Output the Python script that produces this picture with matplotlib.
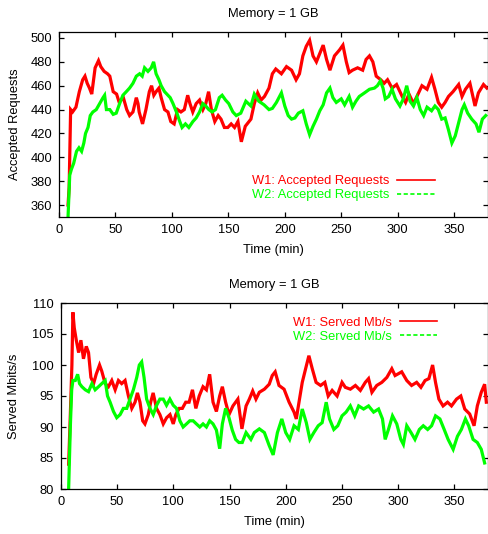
import matplotlib

matplotlib.use("Agg")
import matplotlib.pyplot as plt
from matplotlib.lines import Line2D

plt.rcParams["font.family"] = ["Liberation Sans", "DejaVu Sans"]

RED = "#ff0000"
GREEN = "#00ff00"

# --- Accepted requests (top panel) ---
req_w1_t = [8, 9, 10.3, 12, 15, 18, 21, 23, 25, 27, 29, 32, 35, 37, 40, 43, 45, 48, 51, 53,
            55, 57, 60, 62.5, 65.5, 68.5, 70, 71, 74, 77, 80, 82, 84, 86, 88.5, 90.5, 93.5, 96.5, 99, 102,
            105, 108, 111, 114, 116, 118.5, 121.5, 124.5, 127.5, 130, 132.5, 135, 138, 141, 143.5, 146.5, 149.5, 152.5, 155.5, 158.5,
            161.5, 165, 170, 173, 176, 179, 182, 186, 189, 192, 197, 201.5, 206, 210, 213, 216, 219, 222, 225, 228,
            231, 234, 237, 240, 244, 248.5, 251.5, 254.5, 257, 260, 264.5, 269, 272, 275, 278, 281, 285, 288, 291, 295,
            299, 304, 307, 310, 314, 317, 321.5, 326, 330, 333, 336, 339, 342, 345, 349, 354, 357, 360, 364, 368.5,
            371.5, 376, 379]
req_w1 = [360, 375, 440, 438, 442, 455, 465, 468, 462, 458, 453, 475, 481, 476, 472, 470, 468, 455, 453, 447,
          448, 450, 440, 435, 438, 450, 445, 438, 428, 440, 455, 460, 452, 455, 458, 450, 440, 438, 430, 428,
          440, 438, 440, 452, 445, 438, 445, 448, 440, 445, 455, 440, 430, 435, 432, 425, 425, 428, 425, 430,
          413, 426, 432, 445, 454, 448, 451, 458, 470, 474, 470, 476, 473, 465, 470, 485, 493, 498, 485, 480,
          487, 494, 482, 473, 485, 490, 494, 480, 471, 473, 475, 473, 482, 485, 480, 468, 465, 462, 465, 458,
          461, 451, 446, 453, 445, 451, 460, 457, 467, 457, 446, 442, 446, 451, 455, 461, 451, 457, 462, 443,
          454, 461, 458]

req_w2_t = [8, 9.5, 11, 13, 15.5, 17.7, 20, 22, 23.5, 25.7, 27.7, 30, 33, 36, 39, 40.4, 42, 45, 48, 50.7,
            53.7, 56.6, 59.6, 62.5, 65.5, 68.5, 71.4, 73.7, 75.8, 78.8, 81.7, 83.8, 86, 88.5, 90.5, 93.5, 96.5, 98.5, 101, 104,
            107, 109, 112, 115, 118.6, 121.5, 124.5, 127.4, 130, 132.7, 135.7, 138.6, 142, 144.5, 147.5, 150.4, 154, 157, 161, 165.5,
            170, 173, 177, 181.6, 186, 189, 192.6, 197, 200, 203, 206, 209, 212, 216, 219, 222, 225, 228, 231, 234,
            237, 240, 242.6, 245.6, 250, 253, 257, 260, 263, 266, 270.6, 275, 279.4, 282, 284.7, 287, 289, 292, 295, 298,
            302, 305, 308, 311, 314, 317, 320, 323, 326, 330, 333, 336, 339, 342, 345, 348, 351, 354, 357, 359,
            362, 365.6, 369.4, 372, 375, 378]
req_w2 = [350, 385, 390, 395, 405, 408, 405, 412, 420, 425, 435, 438, 440, 445, 450, 452, 440, 440, 436, 437,
          445, 452, 455, 458, 462, 468, 470, 468, 475, 472, 475, 480, 470, 465, 460, 455, 452, 450, 445, 438,
          430, 425, 428, 425, 430, 433, 438, 445, 443, 440, 438, 440, 450, 452, 448, 445, 438, 435, 437, 447,
          443, 453, 447, 444, 440, 441, 446, 454, 443, 435, 432, 433, 437, 439, 428, 419, 426, 432, 439, 444,
          454, 458, 450, 446, 449, 444, 451, 442, 447, 451, 454, 457, 458, 460, 464, 458, 449, 451, 457, 449,
          443, 449, 460, 447, 443, 450, 440, 435, 442, 439, 443, 440, 432, 433, 423, 412, 418, 429, 440, 444,
          437, 432, 428, 421, 432, 435]

# --- Served bandwidth (bottom panel) ---
mbs_w1_t = [6.8, 8.3, 9.7, 10.6, 11.8, 13.6, 15.7, 17.7, 20, 22.5, 24.5, 26.6, 29, 31.3, 34.3, 36.3, 39.3, 42.2, 45.2, 48.2,
            51.1, 54, 57, 60, 63, 65.9, 68, 70.3, 72.7, 74.7, 77.7, 79.8, 82, 85, 88, 91, 94, 97, 99.9, 102.2,
            105.2, 108, 111, 114, 117, 120, 123, 126.4, 129.4, 132.3, 135.3, 138.3, 141.2, 143.6, 146.5, 149.5, 153, 157.4, 161, 164.7,
            167.6, 170.6, 173.5, 176.5, 181, 185.3, 188, 190.6, 194, 198.5, 203, 207.4, 209.4, 211.8, 214.7, 217.7, 220.6, 223.6, 227, 231,
            234.8, 237.8, 241.3, 245.7, 250.1, 253, 257.5, 262, 266.4, 270.8, 273.7, 276.7, 281, 285.5, 290, 294.4, 297.3, 300.3, 303.2, 307.7,
            312, 316.5, 320.3, 324, 327.4, 330.7, 333.3, 336.3, 340, 344, 347.5, 352, 355.8, 359.3, 363.7, 367.6, 370.5, 374, 377, 378.5]
mbs_w1 = [84, 92, 100, 108.5, 106, 104, 102, 104, 101, 103, 102, 98, 97, 98.5, 100, 99, 97, 96.5, 97.5, 96,
          97.5, 97, 97.5, 95, 93, 94, 95.5, 94, 91, 90.5, 92, 94, 95.5, 93, 92, 90.5, 91.5, 92, 90.5, 92,
          93, 93, 94, 94, 96, 93, 95, 96.5, 96, 98.5, 94, 92.5, 95, 96.5, 94, 92, 93.4, 94.5, 89.7, 93.4,
          94.5, 95.8, 94.5, 95.6, 96.1, 96.9, 98.3, 98.9, 96.7, 96.1, 94, 92.4, 91.3, 94, 97.2, 99.4, 101.5, 99.4, 97.2, 96.7,
          97.2, 95, 95.9, 95, 97.2, 96.4, 96.1, 96.7, 95.9, 97.2, 97.8, 95.6, 96.7, 97.2, 98, 99.4, 98.3, 98.6, 98.9, 97.5,
          96.7, 97.2, 96.4, 97.5, 97.8, 100, 97.2, 94.5, 93.4, 94, 93.4, 94.5, 95, 92.9, 92.1, 90.2, 93.4, 95.6, 96.9, 94]

mbs_w2_t = [6.8, 8.3, 9.5, 10.6, 12.7, 14.8, 16.5, 18.6, 21.6, 24.5, 27.5, 30.4, 33.4, 36.3, 39.3, 41.4, 43.7, 46.7, 49.6, 52.6,
            55.5, 58.5, 61.4, 64.4, 67.4, 69.7, 71.8, 73.9, 76.2, 79.2, 82.1, 85.1, 88, 91, 93.9, 96.9, 99.9, 102.8, 105.8, 108.7,
            111.7, 114.6, 117.6, 120.5, 123.5, 126.4, 129.4, 132.3, 135.3, 138.3, 141.2, 143.6, 146.5, 149.5, 152.4, 155.4, 158.3, 161.3, 164.7, 169,
            172, 176.5, 181, 185.3, 188.8, 192.6, 196.5, 200, 203.5, 207.4, 211.2, 214.7, 218.3, 221.5, 225, 228.9, 232.4, 236, 239, 242.8,
            246.3, 250.1, 253.7, 257.5, 261.4, 264.9, 269.3, 273.7, 278.2, 282.6, 286.1, 288.5, 291.4, 295, 298.8, 302.4, 304.7, 307.7, 311.5, 315,
            318.9, 322.4, 326.3, 329.8, 333.3, 337.2, 341, 344.5, 349, 352.8, 356.3, 359.9, 362.8, 366.7, 370.5, 374, 377]
mbs_w2 = [80, 90, 96, 97.5, 97.5, 98.5, 97, 96.5, 96, 95.7, 97, 96, 96.5, 97, 97.5, 95, 94, 92.5, 91.5, 92,
          93, 93, 94.5, 96, 98, 100, 100.5, 98, 94.5, 93, 92, 93.5, 94.5, 94.5, 93.5, 94.5, 93.5, 93, 91, 90,
          90.5, 91, 91, 90.5, 90, 90.5, 90, 91, 90.5, 89.5, 86.5, 90.5, 93, 91.5, 89.5, 88, 87.5, 87.5, 89.1, 88,
          89.1, 89.7, 89.1, 87, 85.5, 89.1, 91.3, 89.1, 88, 90.2, 89.6, 92.9, 90.7, 88, 89.1, 90.2, 90.7, 94, 91.3, 89.6,
          90.2, 91.8, 92.4, 93.4, 91.8, 93.4, 92.9, 93.4, 92.4, 92.9, 91.3, 88, 89.6, 91.8, 90.5, 88, 87.2, 90.2, 89.1, 88,
          89.6, 90.2, 89.6, 90.2, 91.8, 91.3, 89.6, 88, 86.4, 88.5, 89.6, 91.3, 90.2, 88, 87.5, 86.4, 84.2]

x_ticks = [0, 50, 100, 150, 200, 250, 300, 350]
req_ticks = [360, 380, 400, 420, 440, 460, 480, 500]
mbs_ticks = [80, 85, 90, 95, 100, 105, 110]

FS = 9.3
LW = 2.3  # thick strokes stand in for the dense per-sample jitter


def style_axes(ax):
    for spine in ax.spines.values():
        spine.set_color("#000000")
        spine.set_linewidth(0.9)
    ax.tick_params(direction="in", length=3.8, width=0.9, top=True, right=True,
                   labelsize=FS, pad=5, colors="#000000")
    ax.set_xlim(0, 380)
    ax.set_xticks(x_ticks)


def add_legend(ax, labels, anchor):
    handles = [Line2D([], [], color=RED, lw=1.2),
               Line2D([], [], color=GREEN, lw=1.2, linestyle=(0, (2.5, 1.5)))]
    leg = ax.legend(handles, labels, loc="upper right", bbox_to_anchor=anchor,
                    frameon=False, markerfirst=False, fontsize=FS, handlelength=2.9,
                    handletextpad=0.6, labelspacing=0.15, borderpad=0, borderaxespad=0,
                    labelcolor=[RED, GREEN])
    return leg


fig = plt.figure(figsize=(4.89, 5.34), dpi=100)
fig.patch.set_facecolor("white")

ax1 = fig.add_axes([59 / 489, 1 - 217 / 534, 429 / 489, 185 / 534])
ax1.plot(req_w1_t, req_w1, color=RED, lw=LW, solid_joinstyle="miter")
ax1.plot(req_w2_t, req_w2, color=GREEN, lw=LW, solid_joinstyle="miter")
style_axes(ax1)
ax1.set_ylim(350, 505)
ax1.set_yticks(req_ticks)
ax1.set_title("Memory = 1 GB", fontsize=FS, pad=11)
ax1.set_xlabel("Time (min)", fontsize=FS, labelpad=6)
ax1.set_ylabel("Accepted Requests", fontsize=FS, labelpad=7)
add_legend(ax1, ["W1: Accepted Requests", "W2: Accepted Requests"], (0.876, 0.225))

ax2 = fig.add_axes([61 / 489, 1 - 489 / 534, 427 / 489, 186 / 534])
ax2.plot(mbs_w1_t, mbs_w1, color=RED, lw=LW, solid_joinstyle="miter")
ax2.plot(mbs_w2_t, mbs_w2, color=GREEN, lw=LW, solid_joinstyle="miter")
style_axes(ax2)
ax2.set_ylim(80, 110)
ax2.set_yticks(mbs_ticks)
ax2.set_title("Memory = 1 GB", fontsize=FS, pad=11)
ax2.set_xlabel("Time (min)", fontsize=FS, labelpad=6)
ax2.set_ylabel("Served Mbits/s", fontsize=FS, labelpad=9)
add_legend(ax2, ["W1: Served Mb/s", "W2: Served Mb/s"], (0.881, 0.925))

fig.savefig("out.png", dpi=100)
